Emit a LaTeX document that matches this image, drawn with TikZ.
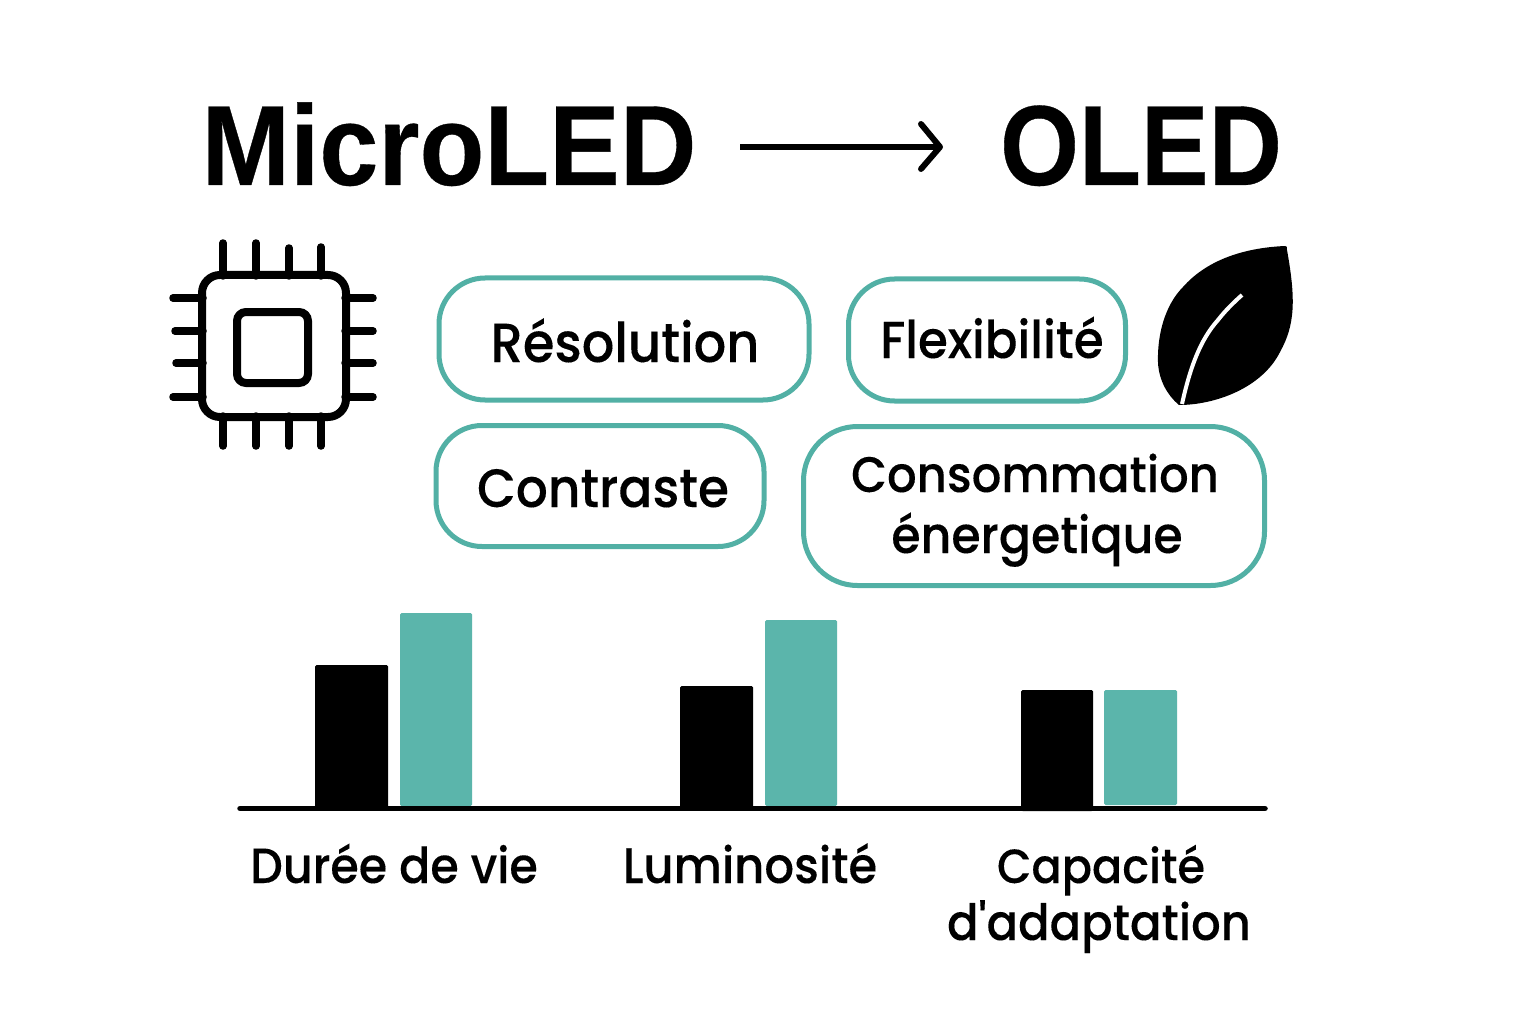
\documentclass[tikz,border=0pt]{standalone}
\usepackage{fontspec}
\setmainfont{Poppins}[UprightFont=* Medium,FakeStretch=0.93,FakeBold=0.15]
\newfontfamily\aposf{Poppins}[UprightFont=* Medium,FakeStretch=0.93,FakeBold=0.15,Ligatures=ResetAll]
\newfontfamily\titlefa{Liberation Sans}[FakeStretch=0.93,FakeBold=0.3]
\newfontfamily\titlefb{Liberation Sans}[FakeStretch=0.89,FakeBold=0.3]
\definecolor{teal1}{HTML}{5BB5AB}
\definecolor{teal2}{HTML}{52B0A5}
\newcommand{\labsize}[1]{\fontsize{#1}{#1}\selectfont}
\tikzset{
 x=1pt,y=-1pt,
 pill/.style={draw=teal2,line width=5pt,fill=white},
 lab/.style={align=center,text=black,inner sep=0pt,anchor=base},
 barb/.style={fill=black,draw=none,rounded corners=1.5pt},
 bart/.style={fill=teal1,draw=none,rounded corners=1.5pt},
 pinl/.style={line width=7.5pt,line cap=round,black},
 head/.style={font=\bfseries\fontsize{114}{120}\selectfont,text=black,inner sep=0pt,anchor=base},
}
\begin{document}
\begin{tikzpicture}
\useasboundingbox (0,0) rectangle (1536,1024);
\fill[white] (0,0) rectangle (1536,1024);
% title
\node[head] (micro) at (449,185) {\titlefa MicroLED};
\node[head] (oled) at (1141,185) {\titlefb OLED};
\coordinate (as) at (740,147);
\coordinate (ae) at (940,147);
\draw[line width=6pt] (as) -- (ae);
\draw[line width=6pt,line cap=round,line join=round] (921,124) -- (ae) -- (921,169);
% chip
\foreach \x/\t in {223/243,256/243,289/248,321/247}{
 \draw[pinl] (\x,\t) -- (\x,276);
 \draw[pinl] (\x,416) -- (\x,446);
}
\foreach \y/\l in {298/173,331/175,363/176,397/173}{
 \draw[pinl] (\l,\y) -- (203,\y);
 \draw[pinl] (345,\y) -- (373,\y);
}
\draw[line width=8pt,rounded corners=18pt] (202,275) rectangle (346,417);
\draw[line width=8pt,rounded corners=9pt] (237,312) rectangle (308,383);
% leaf
\fill (1285,246) .. controls (1240,248) and (1205,262) .. (1183,287)
 .. controls (1165,305) and (1157,335) .. (1158,363)
 .. controls (1159,380) and (1167,395) .. (1179,405)
 .. controls (1215,405) and (1262,388) .. (1280,352)
 .. controls (1295,325) and (1296,300) .. (1287,250)
 .. controls (1287,247) and (1287,246) .. (1285,246) -- cycle;
\draw[white,line width=4pt] (1182,404) .. controls (1190,368) and (1200,340) .. (1218,320) .. controls (1225,311) and (1233,303) .. (1242,295);
% pills
\node[pill,rounded corners=46pt,minimum width=370pt,minimum height=122pt] (p1) at (624,339) {};
\node[lab] at (625,362) {\labsize{55}Résolution};
\node[pill,rounded corners=46pt,minimum width=277pt,minimum height=122pt] (p2) at (987,340) {};
\node[lab] at (992,358) {\labsize{52}Flexibilité};
\node[pill,rounded corners=46pt,minimum width=328pt,minimum height=121pt] (p3) at (600,486) {};
\node[lab] at (603,507) {\labsize{54}Contraste};
\node[pill,rounded corners=54pt,minimum width=461pt,minimum height=159pt] (p4) at (1034,506) {};
\node[lab] at (1035,492) {\labsize{50}Consommation};
\node[lab] at (1037,553) {\labsize{51}énergetique};
% bars
\coordinate (base1) at (240,808.5);
\coordinate (base2) at (1265,808.5);
\fill[barb] (315,665) rectangle (388,808);
\fill[bart] (400,613) rectangle (472,806);
\fill[barb] (680,686) rectangle (753,808);
\fill[bart] (765,620) rectangle (837,806);
\fill[barb] (1021,690) rectangle (1093,811);
\fill[bart] (1104,690) rectangle (1177,805);
\draw[line width=5.5pt,line cap=round] (base1) -- (base2);
\node[lab] (l1) at (394,883) {\labsize{49.5}Durée de vie};
\node[lab] (l2) at (750,883) {\labsize{50}Luminosité};
\node[lab] (l3) at (1101,883) {\labsize{48}Capacité};
\node[lab] (l4) at (1099,940) {\labsize{50}d{\aposf\symbol{39}}adaptation};
\end{tikzpicture}
\end{document}
